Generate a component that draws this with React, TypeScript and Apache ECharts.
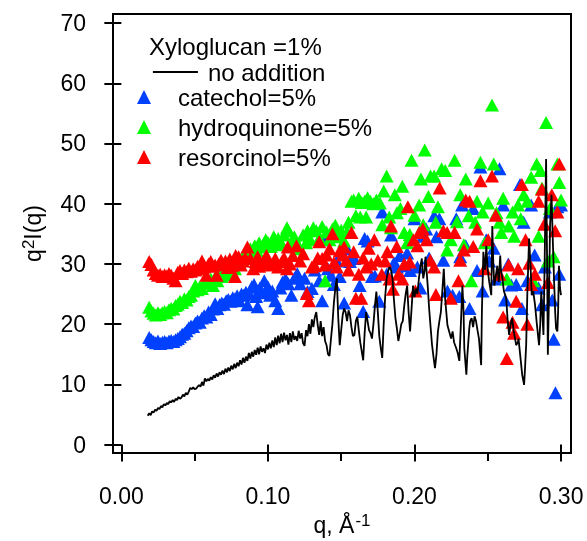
import React, { useEffect, useRef } from 'react';
import * as echarts from 'echarts';

const xTicksMajor = [0, 0.1, 0.2, 0.3];
const xTicksMinor = [0.05, 0.15, 0.25];
const yTicks = [0, 10, 20, 30, 40, 50, 60, 70];
const legendTitle = 'Xyloglucan =1%';
const seriesNames = ['no addition', 'catechol=5%', 'hydroquinone=5%', 'resorcinol=5%'];

const noAddition: number[][] = [
  [0.018,4.8],[0.019,5.2],[0.020,4.9],[0.021,5.5],[0.022,5.3],[0.023,5.8],[0.024,5.6],[0.025,6.1],[0.026,5.9],[0.027,6.4],
  [0.028,6.2],[0.029,6.7],[0.030,6.5],[0.031,6.9],[0.032,6.7],[0.033,7.2],[0.034,7.0],[0.035,7.4],[0.036,7.1],[0.037,7.6],
  [0.038,7.4],[0.039,7.9],[0.040,7.6],[0.041,7.8],[0.042,8.3],[0.043,8.0],[0.044,8.6],[0.045,8.3],[0.046,8.8],[0.047,9.4],
  [0.048,9.2],[0.049,9.5],[0.050,9.2],[0.051,9.3],[0.052,9.6],[0.053,9.9],[0.054,9.6],[0.055,10.4],[0.056,9.8],[0.057,11.0],
  [0.058,10.5],[0.059,10.9],[0.060,10.6],[0.061,11.2],[0.062,10.8],[0.063,11.5],[0.064,11.1],[0.065,11.8],[0.066,11.3],[0.067,12.0],
  [0.068,11.6],[0.069,12.3],[0.070,11.7],[0.071,12.6],[0.072,12.0],[0.073,12.8],[0.074,12.2],[0.075,13.1],[0.076,12.5],[0.077,13.4],
  [0.078,12.7],[0.079,13.6],[0.080,13.0],[0.081,14.0],[0.082,13.3],[0.083,14.4],[0.084,13.6],[0.085,14.6],[0.086,13.9],[0.087,15.2],
  [0.088,14.3],[0.089,15.4],[0.090,14.6],[0.091,15.7],[0.092,14.9],[0.093,16.1],[0.094,15.0],[0.095,16.3],[0.096,15.4],[0.097,16.0],
  [0.098,15.2],[0.099,16.6],[0.100,15.8],[0.101,16.9],[0.102,16.0],[0.103,17.3],[0.104,16.2],[0.105,17.8],[0.106,16.5],[0.107,18.1],
  [0.108,16.8],[0.109,18.4],[0.110,17.0],[0.111,18.6],[0.112,17.3],[0.113,18.2],[0.114,16.6],[0.115,18.5],[0.116,17.0],[0.117,18.8],
  [0.118,17.4],[0.119,18.0],[0.120,17.2],[0.121,18.9],[0.122,17.6],[0.123,18.5],[0.124,16.8],[0.125,16.4],[0.126,19.0],[0.127,18.0],
  [0.128,20.0],[0.129,18.4],[0.130,20.8],[0.131,19.5],[0.132,21.2],[0.133,22.0],[0.134,19.8],[0.135,18.2],[0.136,20.5],[0.137,18.0],
  [0.138,19.5],[0.139,17.2],[0.140,16.5],[0.141,15.0],[0.142,14.7],[0.143,17.5],[0.144,20.0],[0.145,23.5],[0.146,26.0],[0.147,27.6],
  [0.148,21.0],[0.149,16.5],[0.150,19.0],[0.151,21.5],[0.152,22.6],[0.153,22.0],[0.154,20.5],[0.155,22.3],[0.156,21.5],[0.157,19.5],
  [0.158,18.0],[0.159,18.2],[0.160,20.5],[0.161,21.2],[0.162,19.0],[0.163,17.0],[0.164,15.5],[0.165,14.0],[0.166,18.5],[0.167,22.0],
  [0.168,20.5],[0.169,19.0],[0.170,18.5],[0.171,17.6],[0.172,20.0],[0.173,23.0],[0.174,25.4],[0.175,22.0],[0.176,18.0],[0.177,16.0],
  [0.178,14.4],[0.179,20.0],[0.180,24.5],[0.181,27.6],[0.182,28.8],[0.183,29.5],[0.184,29.0],[0.185,27.6],[0.186,24.0],[0.187,21.0],
  [0.188,19.3],[0.189,17.2],[0.190,18.5],[0.191,20.0],[0.192,20.5],[0.193,23.0],[0.194,25.0],[0.195,26.4],[0.196,22.0],[0.197,18.8],
  [0.198,22.5],[0.199,26.4],[0.200,24.5],[0.201,25.9],[0.202,25.0],[0.203,27.5],[0.204,29.5],[0.205,30.9],[0.206,27.6],[0.207,29.0],
  [0.2075,31.2],[0.209,26.5],[0.210,22.6],[0.211,19.5],[0.212,16.5],[0.213,14.5],[0.214,12.7],[0.215,15.0],[0.216,18.8],[0.217,20.5],
  [0.218,22.0],[0.219,25.5],[0.220,29.2],[0.221,24.0],[0.2225,19.8],[0.224,18.5],[0.225,17.6],[0.226,18.8],[0.227,17.0],[0.2285,16.0],
  [0.2295,15.2],[0.2306,13.9],[0.2315,19.0],[0.2327,26.4],[0.2335,22.0],[0.234,16.0],[0.2354,11.6],[0.236,14.5],[0.2374,19.3],[0.238,20.5],
  [0.239,21.0],[0.240,19.5],[0.241,21.3],[0.242,20.5],[0.243,19.0],[0.244,17.6],[0.2455,13.2],[0.246,22.0],[0.247,32.0],[0.248,29.0],
  [0.2485,30.4],[0.249,33.0],[0.250,29.0],[0.251,27.0],[0.2524,24.8],[0.2531,36.3],[0.2538,30.0],[0.2545,26.4],[0.2555,28.0],[0.2565,29.7],
  [0.2575,27.0],[0.2585,31.4],[0.259,29.0],[0.260,27.6],[0.261,25.5],[0.2626,24.3],[0.2636,20.5],[0.2646,18.2],[0.2656,20.0],[0.2666,21.0],
  [0.2676,19.0],[0.2694,16.5],[0.2705,17.0],[0.271,17.6],[0.2725,14.0],[0.2735,11.6],[0.2748,9.9],[0.2755,13.0],[0.2762,16.5],[0.277,25.0],
  [0.2782,34.2],[0.2792,29.7],[0.280,24.8],[0.281,25.5],[0.2823,23.1],[0.2835,20.0],[0.285,16.5],[0.2858,20.0],[0.2865,25.4],[0.2872,22.0],
  [0.288,18.2],[0.2888,30.0],[0.2898,47.4],[0.2905,30.0],[0.291,14.9],[0.2918,25.0],[0.2925,36.3],[0.2935,41.5],[0.2945,33.0],[0.2952,27.6],
  [0.296,22.0],[0.2966,19.3],[0.2975,18.8],[0.298,22.0],[0.2986,29.7],[0.2993,26.0],[0.300,24.8]
];

const catechol: number[][] = [
  [0.019,17.8],[0.0205,17.4],[0.022,17.1],[0.0235,16.9],[0.025,17.2],[0.0265,16.8],[0.028,17.0],[0.0295,17.1],[0.031,16.9],[0.0325,17.2],
  [0.034,17.3],[0.0355,17.1],[0.037,17.4],[0.0385,17.6],[0.040,17.9],[0.0415,18.3],[0.043,18.5],[0.0445,18.9],[0.046,19.4],[0.0475,19.7],
  [0.049,19.6],[0.0505,20.2],[0.052,20.5],[0.0535,20.3],[0.055,21.0],[0.0565,21.4],[0.058,21.2],[0.0595,22.0],[0.061,21.6],[0.0625,22.5],
  [0.064,23.4],[0.0655,22.6],[0.067,23.2],[0.0685,23.5],[0.070,23.3],[0.0715,23.9],[0.073,24.1],[0.0745,23.8],[0.076,24.4],[0.0775,24.2],
  [0.079,24.7],[0.0805,23.9],[0.082,25.0],[0.0835,24.8],[0.085,25.3],[0.086,23.2],[0.0875,25.0],[0.089,26.2],[0.0905,26.6],[0.092,24.6],
  [0.093,22.9],[0.0945,26.0],[0.096,25.2],[0.0975,27.2],[0.099,25.6],[0.100,26.2],
  [0.1015,24.8],[0.103,25.5],[0.105,23.9],[0.107,22.6],[0.1085,26.0],[0.110,27.0],[0.112,27.5],[0.114,26.7],[0.116,24.8],[0.118,27.6],
  [0.120,28.4],[0.122,26.7],[0.125,27.6],[0.127,25.4],[0.130,25.9],[0.132,29.0],[0.135,27.2],[0.137,23.9],[0.139,34.0],[0.141,29.2],
  [0.143,28.1],[0.145,26.6],[0.147,30.5],[0.149,27.9],[0.152,23.5],[0.154,32.5],[0.156,30.4],[0.159,30.9],[0.1626,26.4],[0.165,22.1],
  [0.166,34.2],[0.168,33.8],[0.171,27.9],[0.173,28.0],[0.176,23.8],[0.178,38.6],[0.181,28.3],[0.184,34.8],[0.186,30.2],[0.188,29.5],
  [0.190,31.4],[0.193,29.7],[0.195,31.8],[0.197,28.9],[0.200,37.5],[0.202,29.5],[0.204,26.0],[0.2057,34.6],[0.208,35.8],[0.210,31.0],
  [0.2135,38.0],[0.215,34.5],[0.217,37.5],[0.2197,30.6],[0.2225,25.5],[0.226,24.8],[0.2285,37.5],[0.2306,24.6],[0.2312,31.2],[0.2325,39.8],
  [0.235,33.0],[0.2376,22.6],[0.240,39.2],[0.2427,28.9],[0.245,46.1],[0.2465,25.5],[0.249,34.0],[0.251,30.5],[0.254,32.6],[0.256,27.5],
  [0.258,45.8],[0.2605,39.8],[0.2618,24.0],[0.264,30.0],[0.266,26.5],[0.2694,26.6],[0.272,43.2],[0.2733,22.6],[0.2745,36.9],[0.277,27.2],
  [0.2796,39.8],[0.282,31.5],[0.2847,26.0],[0.287,23.2],[0.289,29.5],[0.2924,38.6],[0.294,24.0],[0.295,17.5],[0.2962,8.6],[0.2975,39.5],
  [0.2988,28.3],[0.300,39.8]
];

const hydroquinone: number[][] = [
  [0.019,22.8],[0.0205,22.2],[0.022,21.8],[0.0235,21.5],[0.025,21.9],[0.0265,21.6],[0.028,21.9],[0.0295,22.1],[0.031,21.9],[0.0325,22.4],
  [0.034,22.6],[0.0355,22.5],[0.037,23.1],[0.0385,23.3],[0.040,23.8],[0.0415,23.6],[0.043,24.2],[0.0445,24.0],[0.046,24.6],[0.0475,24.8],
  [0.049,25.5],[0.0505,26.4],[0.052,25.7],[0.0535,26.2],[0.055,25.9],[0.0565,26.8],[0.058,27.1],[0.0595,26.9],[0.061,27.5],[0.0625,26.4],
  [0.064,27.8],[0.0655,27.2],[0.067,28.1],[0.0685,27.9],[0.070,28.6],[0.0715,28.2],[0.073,29.0],[0.0745,28.4],[0.076,29.5],[0.0775,29.2],
  [0.079,30.1],[0.0805,30.5],[0.082,30.8],[0.0835,31.3],[0.085,31.0],[0.0865,31.8],[0.088,32.5],[0.0895,32.0],[0.091,33.0],[0.0925,32.2],
  [0.094,33.5],[0.0955,32.8],[0.097,33.3],[0.0985,34.0],[0.100,33.6],
  [0.102,32.9],[0.104,34.5],[0.106,33.2],[0.107,34.2],[0.109,33.5],[0.111,34.8],[0.113,36.0],[0.114,35.5],[0.116,33.7],[0.118,34.5],
  [0.120,33.0],[0.122,32.5],[0.124,34.8],[0.126,33.5],[0.127,35.5],[0.129,34.0],[0.131,36.0],[0.133,35.5],[0.135,34.2],[0.137,36.2],
  [0.139,27.2],[0.140,35.3],[0.142,34.0],[0.144,35.8],[0.146,36.4],[0.148,34.5],[0.150,35.6],[0.152,33.8],[0.154,35.3],[0.155,36.9],
  [0.157,40.4],[0.1585,40.6],[0.160,38.0],[0.162,40.9],[0.163,37.8],[0.164,40.2],[0.166,40.4],[0.167,37.8],[0.168,41.0],[0.170,40.4],
  [0.172,40.0],[0.174,40.6],[0.1764,40.1],[0.178,36.5],[0.179,42.1],[0.181,44.6],[0.1828,37.8],[0.184,36.0],[0.1866,41.5],[0.188,38.5],
  [0.1904,39.2],[0.1917,42.9],[0.193,35.2],[0.195,33.5],[0.1968,34.9],[0.198,47.2],[0.200,38.1],[0.2032,39.8],[0.2044,44.1],[0.206,36.5],
  [0.207,48.9],[0.2095,41.2],[0.211,44.6],[0.2134,44.6],[0.2145,36.9],[0.216,39.5],[0.2185,45.8],[0.221,45.5],[0.2223,32.3],[0.2248,34.0],
  [0.2274,47.2],[0.229,37.0],[0.2312,41.5],[0.2337,33.2],[0.235,44.1],[0.237,38.0],[0.2388,27.2],[0.2414,36.9],[0.2427,40.4],[0.245,46.9],
  [0.2465,38.6],[0.248,33.5],[0.2503,40.1],[0.2529,56.4],[0.2541,46.6],[0.256,38.5],[0.258,36.9],[0.2592,35.2],[0.2605,40.9],[0.263,27.5],
  [0.2643,36.3],[0.2669,38.6],[0.268,34.6],[0.2707,39.8],[0.2725,37.5],[0.2745,41.5],[0.277,40.4],[0.2796,44.4],[0.281,27.2],[0.2834,46.6],
  [0.2847,34.6],[0.286,45.5],[0.287,42.6],[0.2898,53.5],[0.291,30.5],[0.2924,39.2],[0.295,31.2],[0.2975,46.6],[0.2988,43.5],[0.300,40.6]
];

const resorcinol: number[][] = [
  [0.019,30.4],[0.0205,29.9],[0.022,29.0],[0.0235,28.4],[0.025,28.1],[0.0265,28.3],[0.028,27.9],[0.0295,28.2],[0.031,28.0],[0.0325,28.4],
  [0.034,28.1],[0.0355,27.6],[0.037,27.2],[0.0385,28.6],[0.040,28.9],[0.0415,28.4],[0.043,29.0],[0.0445,28.7],[0.046,29.3],[0.0475,28.8],
  [0.049,29.2],[0.0505,29.0],[0.052,29.6],[0.0535,29.2],[0.055,30.5],[0.0565,29.5],[0.058,28.1],[0.0595,30.0],[0.061,30.4],[0.0625,29.6],
  [0.064,29.8],[0.065,28.1],[0.0665,30.0],[0.068,30.6],[0.0695,29.9],[0.071,30.5],[0.0725,29.4],[0.074,30.8],[0.075,29.7],[0.0765,30.3],
  [0.0775,27.9],[0.078,31.4],[0.0795,30.6],[0.080,31.2],[0.0815,29.8],[0.083,30.5],[0.0845,31.0],[0.086,32.8],[0.088,30.9],[0.090,29.2],
  [0.0915,30.4],[0.093,31.2],[0.094,29.6],[0.096,30.0],[0.0975,30.7],[0.099,31.4],[0.1005,29.8],
  [0.103,30.0],[0.105,30.9],[0.107,29.5],[0.1095,30.4],[0.111,31.0],[0.113,29.2],[0.1135,32.8],[0.115,30.0],[0.117,31.4],[0.1195,33.0],
  [0.122,30.5],[0.124,31.7],[0.1265,25.1],[0.128,23.9],[0.130,29.5],[0.132,29.7],[0.134,31.0],[0.135,33.7],[0.137,30.9],[0.139,29.8],
  [0.140,31.5],[0.142,32.5],[0.144,35.0],[0.145,30.2],[0.147,29.5],[0.149,32.2],[0.151,31.5],[0.152,32.8],[0.1535,30.6],[0.155,29.0],
  [0.157,35.2],[0.1585,32.0],[0.160,24.3],[0.162,28.3],[0.1637,24.3],[0.165,31.0],[0.167,29.5],[0.1688,32.6],[0.1705,30.0],[0.1726,34.0],
  [0.175,30.6],[0.1777,28.3],[0.180,30.5],[0.1815,32.0],[0.183,27.5],[0.184,36.3],[0.1853,25.8],[0.1879,32.9],[0.1891,28.3],[0.1917,27.5],
  [0.193,30.0],[0.1955,39.5],[0.1968,30.3],[0.1993,34.0],[0.2006,25.5],[0.202,33.0],[0.2032,35.2],[0.2057,35.8],[0.2083,34.0],[0.2108,30.6],
  [0.2134,29.5],[0.2146,24.9],[0.2172,42.6],[0.2197,35.5],[0.2223,35.2],[0.2248,24.3],[0.2274,35.2],[0.230,27.2],[0.2312,30.6],[0.2337,32.3],
  [0.235,40.6],[0.2376,40.4],[0.2401,32.9],[0.2427,35.8],[0.245,43.8],[0.2478,29.2],[0.2503,34.0],[0.2529,44.6],[0.2554,38.1],[0.258,28.3],
  [0.2605,21.2],[0.263,14.3],[0.2643,29.8],[0.2669,20.3],[0.268,18.5],[0.2694,23.8],[0.2707,29.2],[0.2733,43.2],[0.2758,34.0],[0.277,20.0],
  [0.2783,30.1],[0.2796,26.6],[0.2822,28.3],[0.2847,40.4],[0.287,42.4],[0.2886,36.6],[0.291,26.9],[0.2937,41.5],[0.296,35.5],[0.2975,38.6],
  [0.2988,46.6]
];

const FONT = "'Liberation Sans', Arial, Helvetica, sans-serif";
const BLUE = '#0040ff';
const GREEN = '#00ff00';
const RED = '#ff0000';

export default function App() {
  const ref = useRef<HTMLDivElement>(null);
  useEffect(() => {
    if (!ref.current) return;
    const chart = echarts.init(ref.current, null, { renderer: 'svg' });
    const xMin = -0.0057;
    const xMax = 0.3068;
    const tri = (name: string, data: number[][], color: string) => ({
      type: 'scatter',
      name,
      data,
      symbol: 'triangle',
      symbolSize: [14, 13],
      itemStyle: { color, opacity: 1 },
      z: 2,
      emphasis: { disabled: true },
    });
    const legendText = (pad: number) => ({
      fontSize: 24,
      color: '#000',
      fontFamily: FONT,
      lineHeight: 22,
      padding: [0, 0, 0, pad],
    });
    chart.setOption({
      animation: false,
      textStyle: { fontFamily: FONT, color: '#000' },
      title: {
        text: legendTitle,
        left: 149,
        top: 35,
        padding: 0,
        textStyle: { fontSize: 24, fontWeight: 'normal', color: '#000', fontFamily: FONT, lineHeight: 22 },
      },
      legend: [
        { data: [seriesNames[0]], left: 152, top: 60, padding: 0, itemWidth: 45, itemHeight: 14, selectedMode: false,
          itemStyle: { opacity: 0, color: 'rgba(0,0,0,0)', borderWidth: 0 }, lineStyle: { width: 1.8, color: '#000' }, textStyle: legendText(5) },
        { data: [seriesNames[1]], left: 137, top: 85, padding: 0, itemWidth: 14, itemHeight: 14, selectedMode: false, textStyle: legendText(22) },
        { data: [seriesNames[2]], left: 137, top: 115, padding: 0, itemWidth: 14, itemHeight: 14, selectedMode: false, textStyle: legendText(22) },
        { data: [seriesNames[3]], left: 137, top: 145, padding: 0, itemWidth: 14, itemHeight: 14, selectedMode: false, textStyle: legendText(22) },
      ],
      grid: { left: 113, right: 16, top: 14, bottom: 86, show: true, borderColor: '#000', borderWidth: 2, backgroundColor: 'transparent' },
      xAxis: [
        {
          type: 'value', min: xMin, max: xMax, position: 'bottom',
          axisLine: { show: false }, splitLine: { show: false },
          axisTick: { show: true, inside: false, length: 17, customValues: xTicksMajor, lineStyle: { color: '#000', width: 2 } },
          axisLabel: { customValues: xTicksMajor, formatter: (v: number) => v.toFixed(2), fontSize: 23, color: '#000', margin: 31, fontFamily: FONT },
          name: 'q, Å{sup|-1}',
          nameLocation: 'middle',
          nameGap: 59,
          nameTextStyle: { fontSize: 23, color: '#000', fontFamily: FONT, rich: { sup: { fontSize: 17, verticalAlign: 'top', padding: [0, 0, 8, 1] } } },
        },
        {
          type: 'value', min: xMin, max: xMax, position: 'bottom',
          axisLine: { show: false }, splitLine: { show: false },
          axisTick: { show: true, inside: false, length: 8, customValues: xTicksMinor, lineStyle: { color: '#000', width: 2 } },
          axisLabel: { show: false },
        },
      ],
      yAxis: {
        type: 'value', min: -1.4, max: 71.5,
        axisLine: { show: false }, splitLine: { show: false },
        axisTick: { show: true, inside: false, length: 17, customValues: yTicks, lineStyle: { color: '#000', width: 2 } },
        axisLabel: { customValues: yTicks, fontSize: 23, color: '#000', margin: 27, fontFamily: FONT },
        name: 'q{sup|2}I(q)',
        nameLocation: 'middle',
        nameGap: 68,
        nameRotate: 90,
        nameTextStyle: { fontSize: 23, color: '#000', fontFamily: FONT, rich: { sup: { fontSize: 17, verticalAlign: 'top', padding: [0, 0, 8, 0] } } },
      },
      series: [
        tri(seriesNames[1], catechol, BLUE),
        tri(seriesNames[2], hydroquinone, GREEN),
        tri(seriesNames[3], resorcinol, RED),
        {
          type: 'line',
          name: seriesNames[0],
          data: noAddition,
          symbol: 'none',
          showSymbol: false,
          lineStyle: { color: '#000', width: 1.8 },
          itemStyle: { color: '#000' },
          z: 4,
          emphasis: { disabled: true },
        },
      ],
    });
    return () => chart.dispose();
  }, []);
  return <div ref={ref} style={{ position: 'fixed', left: 0, top: 0, width: 587, height: 541 }} />;
}
